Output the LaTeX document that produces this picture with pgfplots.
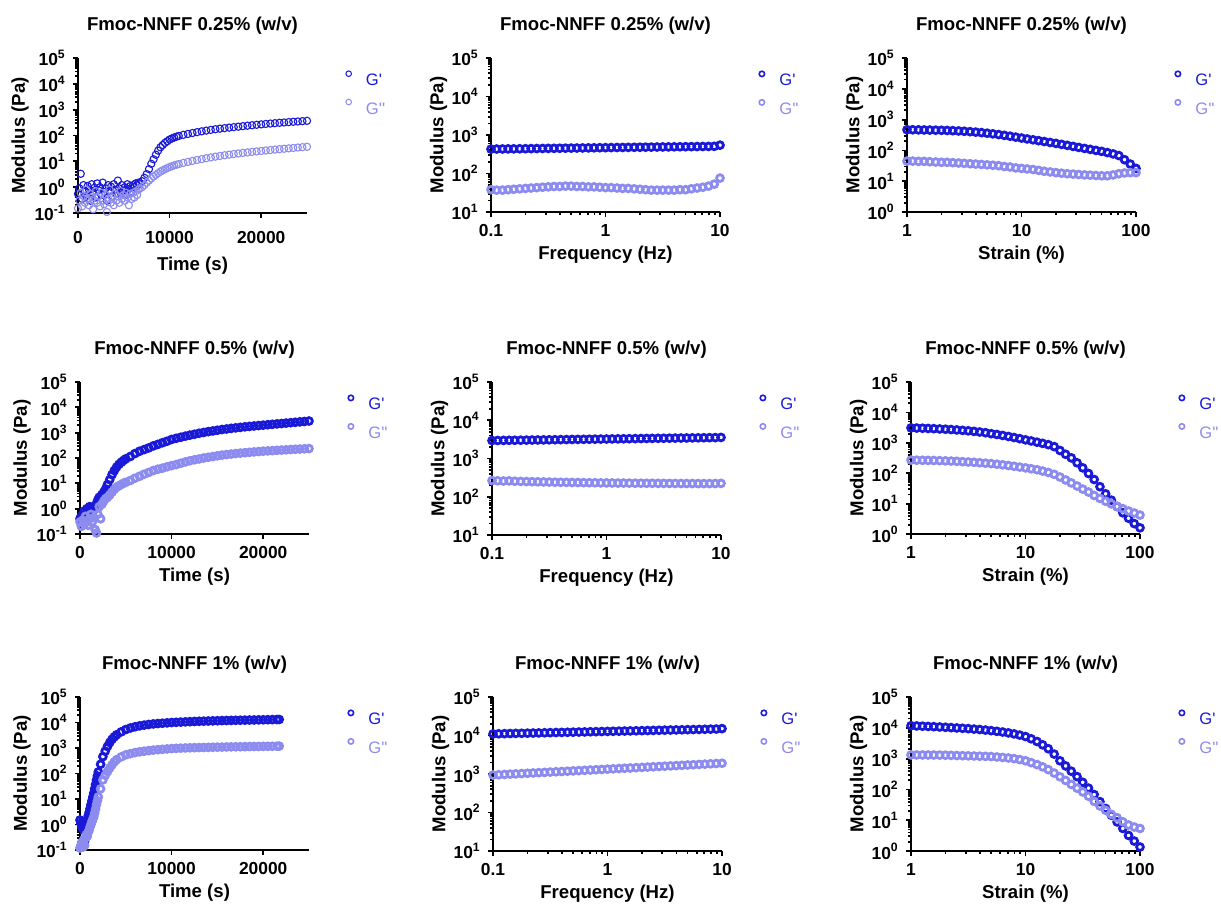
\documentclass[border=0pt]{standalone}
\usepackage{pgfplots}
\pgfplotsset{compat=1.18}
\usepackage{pgfplotstable}
\usepackage{fontspec}
\setmainfont{Liberation Sans}

\definecolor{gp}{RGB}{25,25,215}
\definecolor{gpp}{RGB}{140,140,240}

% ---------------- time sweeps: t (s), G' (Pa), G'' (Pa) ----------------
\pgfplotstableread{
t gp gpp
0 0.55 0.15
150 0.9 0.3
300 3.3 0.6
450 0.35 0.18
600 1.2 0.45
750 0.7 0.25
900 0.45 0.8
1050 1.1 0.35
1200 0.8 0.2
1350 0.3 0.55
1500 1.3 0.4
1650 0.6 0.14
1800 0.95 0.3
1950 0.4 0.7
2100 1.4 0.25
2250 0.75 0.45
2400 1.0 0.18
2550 0.5 0.6
2700 1.5 0.3
2850 0.65 0.22
3000 0.9 0.5
3150 0.3 0.11
3300 1.2 0.35
3450 0.7 0.8
3600 1.05 0.25
3750 0.45 0.4
3900 1.3 0.2
4050 0.8 0.55
4200 0.55 0.3
4350 1.8 0.45
4500 0.9 0.25
4650 0.6 0.7
4800 1.2 0.35
4950 0.75 0.5
5100 1.0 0.3
5250 0.5 0.6
5400 1.3 0.4
5550 0.85 0.2
5700 1.1 0.55
5850 0.7 0.35
6000 1.2 0.6
6150 1.0 0.4
6300 1.4 0.7
6450 1.2 0.5
6600 1.5 0.8
6750 1.3 0.9
7000 1.7 1.0
7250 2.3 1.2
7500 3.2 1.5
7750 5 1.8
8000 8 2.2
8250 12 2.6
8500 18 3.0
8750 26 3.5
9000 35 4.0
9250 43 4.5
9500 52 5.0
9750 60 5.5
10000 70 6.0
10250 77 6.5
10500 84 7.0
10750 90 7.4
11000 96 7.8
11500 106 8.7
12000 115 9.5
12500 125 10.4
13000 135 11.3
13500 145 12.2
14000 155 13.2
14500 165 14.2
15000 175 15.2
15500 184 16.2
16000 193 17.2
16500 202 18.2
17000 211 19.2
17500 220 20.2
18000 230 21.2
18500 240 22.2
19000 250 23.2
19500 260 24.2
20000 270 25.2
20500 280 26.3
21000 290 27.4
21500 300 28.5
22000 310 29.6
22500 320 30.7
23000 330 31.8
23500 340 33.0
24000 350 34.2
24500 360 35.4
25000 370 36.6
}\timeLow

\pgfplotstableread{
t gp gpp
0 0.4 0.3
150 0.5 0.2
300 0.45 0.35
450 0.8 0.25
600 0.6 0.5
750 1.0 0.3
900 0.7 0.22
1050 1.2 0.4
1200 0.8 0.6
1350 1.1 0.3
1500 0.9 0.45
1650 1.3 0.15
1800 1.6 0.11
1950 2.2 0.6
2100 2.8 1.2
2250 3.0 0.4
2400 3.6 1.5
2600 4.5 2.0
2800 6.0 2.5
3000 9 2.8
3250 14 3.5
3500 22 4.5
3750 32 5.8
4000 44 7
4250 56 8
4500 68 9
4750 80 10
5000 93 11
5500 115 13
6000 150 16
6500 185 19
7000 215 23
7500 250 27
8000 300 32
8500 345 36
9000 400 40
9500 460 45
10000 540 50
10500 600 55
11000 660 62
11500 730 70
12000 800 78
12500 870 85
13000 950 92
13500 1020 100
14000 1100 107
14500 1170 114
15000 1250 122
15500 1330 130
16000 1400 137
16500 1480 143
17000 1550 150
17500 1620 156
18000 1700 162
18500 1770 168
19000 1840 174
19500 1910 180
20000 1980 186
20500 2060 191
21000 2140 196
21500 2220 201
22000 2300 206
22500 2390 211
23000 2480 216
23500 2570 221
24000 2670 226
24500 2770 231
25000 2880 236
}\timeMid

\pgfplotstableread{
t gp gpp
0 1.5 0.12
100 1.1 0.15
200 0.8 0.2
300 1.3 0.13
400 0.6 0.25
500 0.22 0.15
600 0.9 0.3
700 1.2 0.4
800 1.5 0.35
900 2.2 0.5
1000 3.0 0.6
1100 4.2 0.8
1200 6 1.0
1300 8.5 1.3
1400 12 1.6
1500 17 2.0
1600 25 2.8
1700 37 4.0
1800 55 6.0
1900 80 8.5
2000 115 12
2250 230 25
2500 460 56
2750 750 85
3000 1150 120
3250 1650 165
3500 2200 220
3750 2750 285
4000 3300 350
4500 4300 450
5000 5300 540
5500 6100 600
6000 6800 660
6500 7400 710
7000 7900 750
7500 8400 790
8000 8800 830
8500 9100 860
9000 9400 890
9500 9700 920
10000 10000 950
10500 10200 970
11000 10400 990
11500 10600 1005
12000 10800 1020
12500 11000 1030
13000 11150 1040
13500 11300 1050
14000 11450 1060
14500 11600 1070
15000 11750 1080
15500 11900 1090
16000 12000 1100
16500 12100 1110
17000 12200 1115
17500 12300 1120
18000 12400 1130
18500 12500 1140
19000 12600 1145
19500 12700 1150
20000 12800 1160
20500 12900 1165
21000 13000 1170
21500 13100 1180
21750 13150 1185
}\timeHigh

% ---------------- frequency sweeps: f (Hz), G' (Pa), G'' (Pa) ----------------
\pgfplotstableread{
f gp gpp
0.1 430 38
0.112 432 37
0.126 434 37
0.141 436 38
0.158 437 39
0.178 439 40
0.2 441 41
0.224 443 42
0.251 445 43
0.282 447 44
0.316 449 45
0.355 451 46
0.398 453 46
0.447 455 47
0.501 457 47
0.562 459 46
0.631 461 46
0.708 463 45
0.794 465 45
0.891 467 44
1 469 43
1.12 471 43
1.26 473 42
1.41 475 41
1.58 477 41
1.78 479 40
2 481 39
2.24 483 38
2.51 485 37
2.82 487 37
3.16 489 37
3.55 491 37
3.98 493 37
4.47 495 38
5.01 497 38
5.62 499 40
6.31 501 42
7.08 503 44
7.94 505 47
8.91 508 53
10 545 76
}\freqLow

\pgfplotstableread{
f gp gpp
0.1 2950 265
0.112 2960 262
0.126 2975 258
0.141 2990 260
0.158 3000 255
0.178 3010 252
0.2 3025 250
0.224 3040 248
0.251 3055 246
0.282 3070 244
0.316 3085 242
0.355 3100 240
0.398 3115 239
0.447 3130 238
0.501 3145 236
0.562 3160 235
0.631 3175 234
0.708 3190 233
0.794 3205 232
0.891 3220 231
1 3235 230
1.12 3250 229
1.26 3265 228
1.41 3280 228
1.58 3295 227
1.78 3310 226
2 3325 226
2.24 3340 225
2.51 3355 225
2.82 3370 224
3.16 3385 224
3.55 3400 223
3.98 3415 223
4.47 3430 222
5.01 3445 222
5.62 3460 222
6.31 3475 221
7.08 3490 221
7.94 3505 221
8.91 3520 222
10 3560 224
}\freqMid

\pgfplotstableread{
f gp gpp
0.1 11000 940
0.112 11080 957
0.126 11170 974
0.141 11250 991
0.158 11340 1009
0.178 11420 1027
0.2 11510 1045
0.224 11590 1064
0.251 11680 1083
0.282 11770 1102
0.316 11860 1122
0.355 11950 1142
0.398 12040 1162
0.447 12130 1183
0.501 12220 1204
0.562 12310 1225
0.631 12400 1247
0.708 12500 1269
0.794 12590 1292
0.891 12690 1315
1 12780 1338
1.12 12880 1362
1.26 12970 1386
1.41 13070 1411
1.58 13170 1436
1.78 13270 1462
2 13370 1488
2.24 13470 1514
2.51 13570 1541
2.82 13670 1569
3.16 13780 1597
3.55 13880 1625
3.98 13990 1654
4.47 14090 1684
5.01 14200 1714
5.62 14300 1744
6.31 14410 1775
7.08 14520 1807
7.94 14630 1839
8.91 14740 1872
10 15100 1905
}\freqHigh

% ---------------- amplitude sweeps: strain (%), G' (Pa), G'' (Pa) ----------------
\pgfplotstableread{
s gp gpp
1 470 45
1.12 468 45
1.26 465 44
1.41 462 44
1.58 458 43
1.78 454 42
2 450 41
2.24 444 41
2.51 437 40
2.82 428 39
3.16 418 38
3.55 406 37
3.98 393 36
4.47 378 35
5.01 362 34
5.62 345 33
6.31 327 32
7.08 308 30
7.94 289 29
8.91 270 27
10 252 26
11.2 236 25
12.6 221 24
14.1 207 22.5
15.8 194 21
17.8 181 20
20 169 19
22.4 157 18.2
25.1 146 17.5
28.2 135 17
31.6 125 16.5
35.5 116 16
39.8 108 15.7
44.7 100 15.3
50.1 93 15
56.2 85 15
63.1 77 16
70.8 68 17.5
79.4 50 18.5
89.1 36 19
100 26 19
}\strainLow

\pgfplotstableread{
s gp gpp
1 3100 270
1.12 3060 268
1.26 3020 266
1.41 2970 264
1.58 2920 262
1.78 2860 259
2 2800 255
2.24 2730 251
2.51 2650 246
2.82 2570 240
3.16 2480 234
3.55 2380 228
3.98 2270 221
4.47 2150 214
5.01 2000 207
5.62 1880 198
6.31 1750 189
7.08 1620 179
7.94 1490 169
8.91 1370 159
10 1250 150
11.2 1150 140
12.6 1050 130
14.1 960 118
15.8 870 106
17.8 750 92
20 560 75
22.4 420 60
25.1 320 48
28.2 220 38
31.6 150 30
35.5 98 24
39.8 62 18.5
44.7 36 14.8
50.1 21 12
56.2 13 9.8
63.1 8 8.1
70.8 5 6.8
79.4 3.3 5.7
89.1 2.2 4.9
100 1.6 4.2
}\strainMid

\pgfplotstableread{
s gp gpp
1 11700 1320
1.12 11500 1318
1.26 11300 1315
1.41 11100 1312
1.58 10900 1308
1.78 10650 1300
2 10400 1290
2.24 10150 1275
2.51 9900 1260
2.82 9650 1245
3.16 9400 1230
3.55 9100 1215
3.98 8800 1200
4.47 8450 1185
5.01 8100 1170
5.62 7700 1130
6.31 7300 1090
7.08 6850 1050
7.94 6350 1000
8.91 5800 930
10 5200 850
11.2 4400 740
12.6 3600 640
14.1 2800 540
15.8 2100 440
17.8 1400 340
20 850 257
22.4 580 195
25.1 390 145
28.2 260 110
31.6 170 83
35.5 110 60
39.8 68 41
44.7 40 29
50.1 24 21
56.2 14.5 15.5
63.1 8.8 12
70.8 5.4 8.9
79.4 3.2 7.0
89.1 2.1 6.0
100 1.35 5.4
}\strainHigh

\pgfplotsset{
  rheo/.style={
    scale only axis, width=114.5pt,
    axis lines*=left,
    axis line style={line width=1pt, black},
    tick style={line width=0.9pt, black},
    tick align=outside,
    major tick length=2.6pt, minor tick length=1.3pt,
    ymax=1e5,
    clip=false,
    scaled x ticks=false, scaled y ticks=false,
    tick label style={font=\bfseries\fontsize{8.7}{10}\selectfont},
    every axis title/.style={at={(axis description cs:0.5,1)}, anchor=base,
      yshift=14pt, font=\bfseries\fontsize{9.3}{11}\selectfont},
    every axis x label/.style={at={(axis description cs:0.5,0)}, anchor=base,
      yshift=-23.5pt, font=\bfseries\fontsize{9.3}{11}\selectfont},
    every axis y label/.style={at={(axis description cs:-0.229,0.5)}, rotate=90,
      anchor=center, font=\bfseries\fontsize{9.3}{11}\selectfont},
    ylabel={Modulus (Pa)},
    legend style={at={(axis description cs:1,1)}, anchor=north west,
      xshift=19pt, yshift=-6pt, draw=none, fill=none, inner sep=0pt,
      row sep=6.5pt, column sep=7pt, font=\fontsize{8.3}{10}\selectfont,
      nodes={inner sep=0pt, text height=6pt, text depth=0pt}},
    legend cell align=left,
  },
  gpm/.style={only marks, mark=o, mark size=1.7pt, color=gp,
    mark options={line width=1.4pt},
    legend image code/.code={\draw[gp, line width=0.8pt] (0pt,3pt) circle (1.35pt);}},
  gppm/.style={only marks, mark=o, mark size=1.7pt, color=gpp,
    mark options={line width=1.4pt},
    legend image code/.code={\draw[gpp, line width=0.8pt] (0pt,3pt) circle (1.35pt);}},
  thinm/.style={mark size=1.8pt, mark options={line width=0.55pt},
    legend image code/.code={\draw[#1, line width=0.5pt] (0pt,3pt) circle (1.4pt);}},
  firstcol/.style={every axis y label/.append style={at={(axis description cs:-0.253,0.5)}}},
  timeaxis/.style={firstcol, xmin=0, xmax=25000, xtick={0,10000,20000},
    xticklabels={0,10000,20000}, xlabel={Time (s)}, ymin=0.1,
    ytick={0.1,1,10,100,1000,10000,100000},
    minor ytick={0.2,0.3,0.4,0.5,0.6,0.7,0.8,0.9,2,3,4,5,6,7,8,9,20,30,40,50,60,70,80,90,
      200,300,400,500,600,700,800,900,2000,3000,4000,5000,6000,7000,8000,9000,
      20000,30000,40000,50000,60000,70000,80000,90000},
    yticklabels={10\textsuperscript{-1},10\textsuperscript{0},10\textsuperscript{1},
      10\textsuperscript{2},10\textsuperscript{3},10\textsuperscript{4},10\textsuperscript{5}}},
  freqaxis/.style={xmin=0.1, xmax=10, xtick={0.1,1,10},
    xticklabels={0.1,1,10},
    minor xtick={0.2,0.3,0.4,0.5,0.6,0.7,0.8,0.9,2,3,4,5,6,7,8,9},
    xlabel={Frequency (Hz)}, ymin=10,
    ytick={10,100,1000,10000,100000},
    minor ytick={20,30,40,50,60,70,80,90,200,300,400,500,600,700,800,900,
      2000,3000,4000,5000,6000,7000,8000,9000,20000,30000,40000,50000,60000,70000,80000,90000},
    yticklabels={10\textsuperscript{1},10\textsuperscript{2},10\textsuperscript{3},
      10\textsuperscript{4},10\textsuperscript{5}}},
  strainaxis/.style={xmin=1, xmax=100, xtick={1,10,100},
    xticklabels={1,10,100},
    minor xtick={2,3,4,5,6,7,8,9,20,30,40,50,60,70,80,90},
    xlabel={Strain (\%)}, ymin=1,
    ytick={1,10,100,1000,10000,100000},
    minor ytick={2,3,4,5,6,7,8,9,20,30,40,50,60,70,80,90,200,300,400,500,600,700,800,900,
      2000,3000,4000,5000,6000,7000,8000,9000,20000,30000,40000,50000,60000,70000,80000,90000},
    yticklabels={10\textsuperscript{0},10\textsuperscript{1},10\textsuperscript{2},
      10\textsuperscript{3},10\textsuperscript{4},10\textsuperscript{5}}},
}

\newcommand{\legGp}{\addlegendentry{\textcolor{gp}{G\textquotesingle}}}
\newcommand{\legGpp}{\addlegendentry{\textcolor{gpp}{G\textquotesingle\textquotesingle}}}

\begin{document}
\begin{tikzpicture}
\path[use as bounding box] (0pt,0pt) rectangle (610.5pt,-453pt);

% ----- row 1: 0.25 % -----
\begin{semilogyaxis}[rheo, timeaxis, at={(39pt,-29pt)}, anchor=north west, height=77.5pt,
  title={Fmoc-NNFF 0.25\% (w/v)}, xticklabel style={yshift=-3pt},
  every axis x label/.append style={yshift=-5pt}]
\addplot[gpm, thinm=gp] table[x=t,y=gp] {\timeLow}; \legGp
\addplot[gppm, thinm=gpp] table[x=t,y=gpp] {\timeLow}; \legGpp
\end{semilogyaxis}

\begin{loglogaxis}[rheo, freqaxis, at={(245.5pt,-29pt)}, anchor=north west, height=77pt,
  title={Fmoc-NNFF 0.25\% (w/v)}]
\addplot[gpm] table[x=f,y=gp] {\freqLow}; \legGp
\addplot[gppm] table[x=f,y=gpp] {\freqLow}; \legGpp
\end{loglogaxis}

\begin{loglogaxis}[rheo, strainaxis, at={(453.5pt,-29pt)}, anchor=north west, height=77pt,
  title={Fmoc-NNFF 0.25\% (w/v)}]
\addplot[gpm] table[x=s,y=gp] {\strainLow}; \legGp
\addplot[gppm] table[x=s,y=gpp] {\strainLow}; \legGpp
\end{loglogaxis}

% ----- row 2: 0.5 % -----
\begin{semilogyaxis}[rheo, timeaxis, at={(40pt,-191pt)}, anchor=north west, height=76pt,
  title={Fmoc-NNFF 0.5\% (w/v)}]
\addplot[gpm] table[x=t,y=gp] {\timeMid}; \legGp
\addplot[gppm] table[x=t,y=gpp] {\timeMid}; \legGpp
\end{semilogyaxis}

\begin{loglogaxis}[rheo, freqaxis, at={(246pt,-191pt)}, anchor=north west, height=76.5pt,
  title={Fmoc-NNFF 0.5\% (w/v)}]
\addplot[gpm] table[x=f,y=gp] {\freqMid}; \legGp
\addplot[gppm] table[x=f,y=gpp] {\freqMid}; \legGpp
\end{loglogaxis}

\begin{loglogaxis}[rheo, strainaxis, at={(455.5pt,-191pt)}, anchor=north west, height=76pt,
  title={Fmoc-NNFF 0.5\% (w/v)}]
\addplot[gpm] table[x=s,y=gp] {\strainMid}; \legGp
\addplot[gppm] table[x=s,y=gpp] {\strainMid}; \legGpp
\end{loglogaxis}

% ----- row 3: 1 % -----
\begin{semilogyaxis}[rheo, timeaxis, at={(40pt,-348.5pt)}, anchor=north west, height=76.5pt,
  title={Fmoc-NNFF 1\% (w/v)}]
\addplot[gpm] table[x=t,y=gp] {\timeHigh}; \legGp
\addplot[gppm] table[x=t,y=gpp] {\timeHigh}; \legGpp
\end{semilogyaxis}

\begin{loglogaxis}[rheo, freqaxis, at={(246.5pt,-348.5pt)}, anchor=north west, height=77pt,
  title={Fmoc-NNFF 1\% (w/v)}]
\addplot[gpm] table[x=f,y=gp] {\freqHigh}; \legGp
\addplot[gppm] table[x=f,y=gpp] {\freqHigh}; \legGpp
\end{loglogaxis}

\begin{loglogaxis}[rheo, strainaxis, at={(455.5pt,-348.5pt)}, anchor=north west, height=77pt,
  title={Fmoc-NNFF 1\% (w/v)}]
\addplot[gpm] table[x=s,y=gp] {\strainHigh}; \legGp
\addplot[gppm] table[x=s,y=gpp] {\strainHigh}; \legGpp
\end{loglogaxis}
\end{tikzpicture}
\end{document}
